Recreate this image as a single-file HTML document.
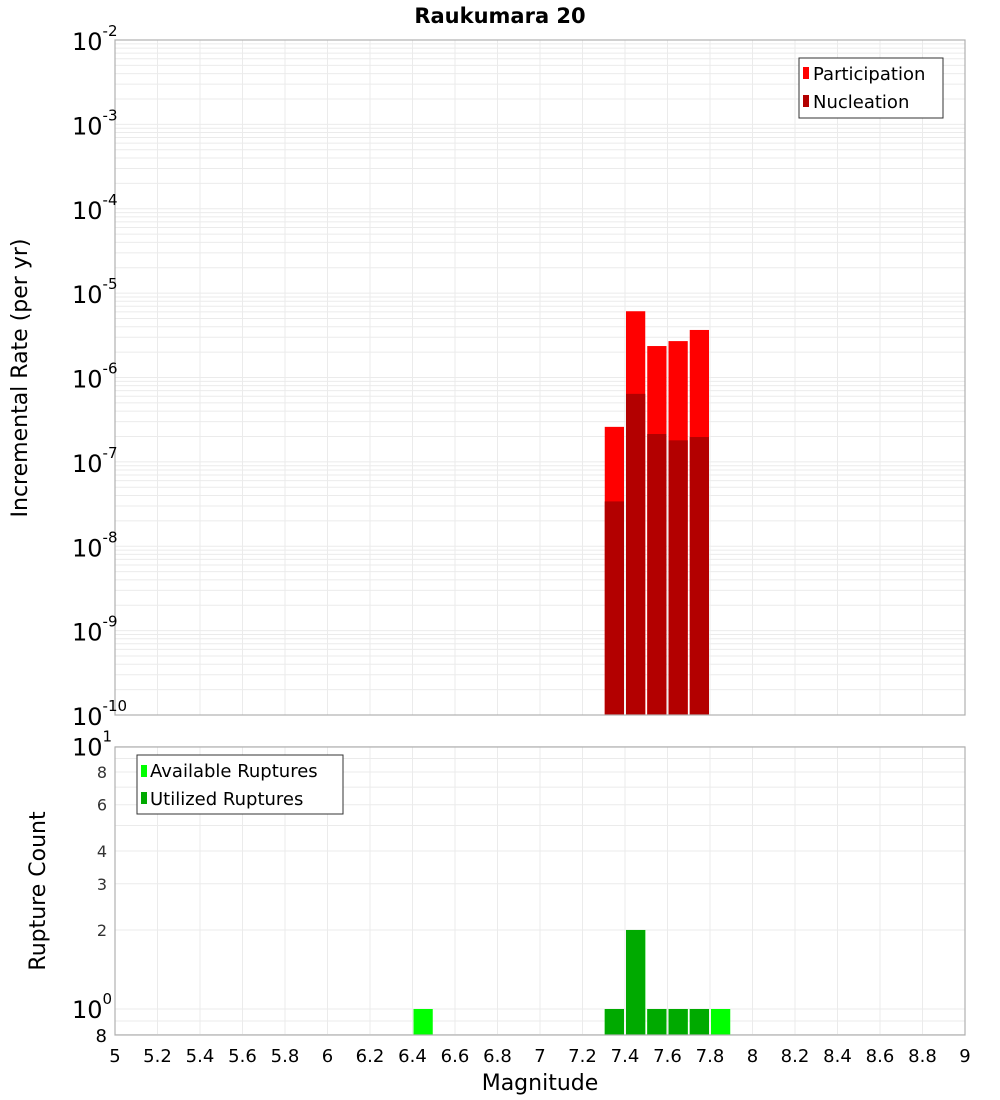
<!DOCTYPE html>
<html><head><meta charset="utf-8"><style>
html,body{margin:0;padding:0;background:#fff;}
svg{display:block;font-family:"DejaVu Sans","Liberation Sans",sans-serif;}
</style></head><body>
<svg id="chart" width="1000" height="1100" viewBox="0 0 1000 1100" xmlns="http://www.w3.org/2000/svg">
<text x="500" y="23" text-anchor="middle" font-size="21" font-weight="bold">Raukumara 20</text>
<g id="top-grid"></g>
<g id="top-bars"></g>
<rect x="115" y="40" width="850" height="675" fill="none" stroke="#b0b0b0" stroke-width="1.2"/>
<g id="top-yticks"></g>
<text transform="translate(27,378) rotate(-90)" text-anchor="middle" font-size="22">Incremental Rate (per yr)</text>
<g>
<rect x="799" y="58" width="144" height="60" fill="#fff" stroke="#333"/>
<rect x="803" y="67" width="6" height="12" fill="#ff0000"/>
<text x="813" y="80" font-size="18">Participation</text>
<rect x="803" y="95" width="6" height="12" fill="#b30000"/>
<text x="813" y="108" font-size="18">Nucleation</text>
</g>
<g id="bot-grid"></g>
<g id="bot-bars"></g>
<rect x="115" y="747" width="850" height="288" fill="none" stroke="#b0b0b0" stroke-width="1.2"/>
<g id="bot-yticks"></g>
<text transform="translate(45,891) rotate(-90)" text-anchor="middle" font-size="22">Rupture Count</text>
<g>
<rect x="137" y="755" width="206" height="59" fill="#fff" stroke="#333"/>
<rect x="141" y="765" width="6" height="12" fill="#00ff00"/>
<text x="150" y="777" font-size="18">Available Ruptures</text>
<rect x="141" y="792" width="6" height="12" fill="#00aa00"/>
<text x="150" y="805" font-size="18">Utilized Ruptures</text>
</g>
<g id="xticks"></g>
<text x="540" y="1090" text-anchor="middle" font-size="22">Magnitude</text>
</svg>
<script>
const magBins = [7.35, 7.45, 7.55, 7.65, 7.75];
const participation = [2.6e-7, 6.1e-6, 2.36e-6, 2.7e-6, 3.66e-6];
const nucleation = [3.4e-8, 6.4e-7, 2.14e-7, 1.8e-7, 1.97e-7];
const availMags = [6.45, 7.35, 7.45, 7.55, 7.65, 7.75, 7.85];
const availCounts = [1, 1, 2, 1, 1, 1, 1];
const utilMags = [7.35, 7.45, 7.55, 7.65, 7.75];
const utilCounts = [1, 2, 1, 1, 1];
const xTickLabels = ["5","5.2","5.4","5.6","5.8","6","6.2","6.4","6.6","6.8","7","7.2","7.4","7.6","7.8","8","8.2","8.4","8.6","8.8","9"];
const topExps = [-10,-9,-8,-7,-6,-5,-4,-3,-2];
const botTickLabels = ["2","3","4","6","8"];

const NS = "http://www.w3.org/2000/svg";
const X0=115, X1=965;
const xS = m => X0 + (m-5)/(9-5)*(X1-X0);
const T0=715, T1=40;
const yTop = v => T0 - (Math.log10(v)+10)/8*(T0-T1);
const B0=1035, B1=747;
const bDec = 262.5;
const yBot = v => 1009 - Math.log10(v)*bDec;
function mk(tag, attrs, parent){const e=document.createElementNS(NS,tag);for(const k in attrs)e.setAttribute(k,attrs[k]);parent.appendChild(e);return e;}
const g = id => document.getElementById(id);

// top grid
for(let e=-10;e<-2;e++){for(let k=1;k<10;k++){const y=yTop(k*Math.pow(10,e));
 const l=mk('line',{x1:X0,x2:X1,y1:y,y2:y,stroke:'#ebebeb','stroke-width':1},g('top-grid'));
 
 }}
xTickLabels.forEach(t=>{const x=xS(+t);
 const l=mk('line',{x1:x,x2:x,y1:T1,y2:T0,stroke:'#ebebeb'},g('top-grid'));
 
 
 const l2=mk('line',{x1:x,x2:x,y1:B1,y2:B0,stroke:'#ebebeb'},g('bot-grid'));
 
 
 const tx=mk('text',{x:x,y:1062,'text-anchor':'middle','font-size':18},g('xticks'));tx.textContent=t;
 
 
});
for(let v=1;v<=10;v++){const y=yBot(v);
 const l=mk('line',{x1:X0,x2:X1,y1:y,y2:y,stroke:'#ebebeb'},g('bot-grid'));
 
 }
[0.8,0.9].forEach(v=>{const y=yBot(v);const l=mk('line',{x1:X0,x2:X1,y1:y,y2:y,stroke:'#ebebeb'},g('bot-grid'));
 
 });

// top y ticks
topExps.forEach(e=>{const y=yTop(Math.pow(10,e));
 const t=mk('text',{x:72,y:y+10,'font-size':24},g('top-yticks'));
 
 
 t.textContent='10';
 const s=mk('tspan',{dy:-14,'font-size':15},t);s.textContent=String(e);
});
// bottom y ticks
[[10,'1'],[1,'0']].forEach(([v,e])=>{const y=yBot(v);
 const t=mk('text',{x:72,y:y+9,'font-size':24},g('bot-yticks'));
 
 
 t.textContent='10';const s=mk('tspan',{dy:-14,'font-size':15},t);s.textContent=e;});
botTickLabels.forEach(t=>{const y=yBot(+t);const tx=mk('text',{x:107,y:y+6,'text-anchor':'end','font-size':16,fill:'#333'},g('bot-yticks'));tx.textContent=t;
 
 });
{const tx=mk('text',{x:107,y:B0+7,'text-anchor':'end','font-size':18},g('bot-yticks'));tx.textContent='8';
 
 }

// bars
function bar(parent, m, yv, yBase, color, name){const x0=xS(m-0.05)+1, x1=xS(m+0.05)-1;
 const r=mk('rect',{x:x0,y:yv,width:x1-x0,height:yBase-yv,fill:color},parent);
 
 }
magBins.forEach((m,i)=>bar(g('top-bars'),m,yTop(participation[i]),T0,'#ff0000','participation-bar'));
magBins.forEach((m,i)=>bar(g('top-bars'),m,yTop(nucleation[i]),T0,'#b30000','nucleation-bar'));
availMags.forEach((m,i)=>bar(g('bot-bars'),m,yBot(availCounts[i]),B0,'#00ff00','available-bar'));
utilMags.forEach((m,i)=>bar(g('bot-bars'),m,yBot(utilCounts[i]),B0,'#00aa00','utilized-bar'));
</script>
</body></html>
